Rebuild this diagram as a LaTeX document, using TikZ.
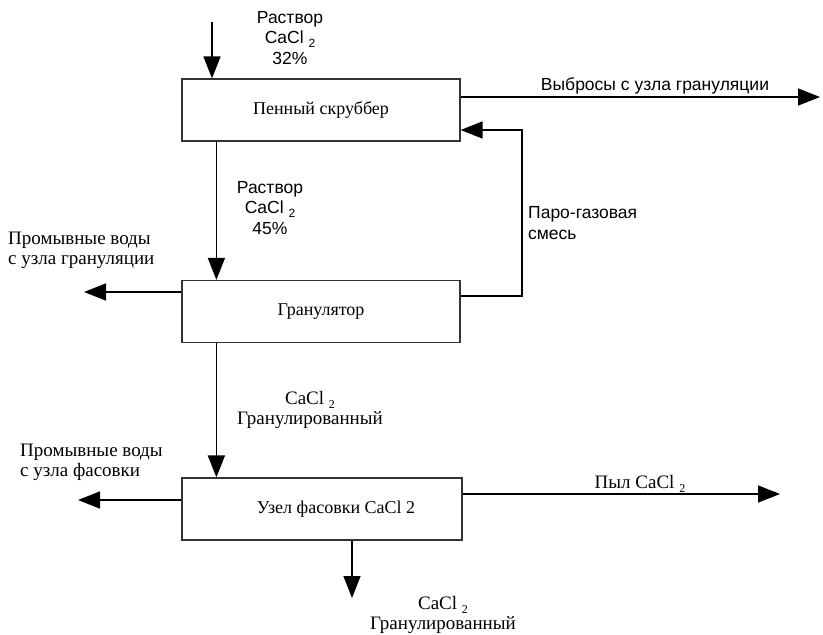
\documentclass[tikz,border=0pt]{standalone}
\usepackage{fontspec}
\setmainfont{Liberation Serif}
\setsansfont{Liberation Sans}
\usetikzlibrary{arrows.meta}
\newcommand{\sub}[1]{\raisebox{-0.4ex}{\fontsize{12}{12}\selectfont #1}}
\begin{document}
\begin{tikzpicture}[x=1pt,y=-1pt,
 box/.style={draw=black!80, line width=1.2pt, minimum width=278pt, minimum height=62pt, inner sep=0pt, font=\fontsize{18}{20}\selectfont},
 flow/.style={line width=1.6pt, -{Triangle[length=22pt,width=17pt]}},
 stxt/.style={font=\sffamily\fontsize{17.5}{20.5}\selectfont, align=center, inner sep=0pt},
 stxtl/.style={font=\sffamily\fontsize{17.5}{20.5}\selectfont, align=left, inner sep=0pt, anchor=west},
 rtxt/.style={font=\fontsize{19}{20}\selectfont, align=center, inner sep=0pt},
 rtxtl/.style={font=\fontsize{19}{20}\selectfont, align=left, inner sep=0pt, anchor=west}]
\useasboundingbox[fill=white] (0,0) rectangle (823,635);

\node[box] (scr) at (321,110) {Пенный скруббер};
\node[box] (gran) at (321,311.5) {Гранулятор};
\node[box, minimum width=280pt] (pack) at (322,509) {\hspace{28pt}Узел фасовки CaCl 2};

% inputs / outputs
\coordinate (in1) at (212,22);
\draw[flow] (in1) -- (in1 |- scr.north);
\draw[flow] ([xshift=35pt]scr.south west) -- ([xshift=35pt]gran.north west);
\draw[flow] ([xshift=35pt]gran.south west) -- ([xshift=35pt]pack.north west);

\coordinate (out1) at (820,97);
\draw[flow] (scr.east |- out1) -- (out1);

\coordinate (fb1) at (522,296);
\coordinate (fb2) at (522,130);
\draw[flow] (gran.east |- fb1) -- (fb1) -- (fb2) -- (scr.east |- fb2);

\coordinate (w1) at (84,292);
\draw[flow] (gran.west |- w1) -- (w1);
\coordinate (w2) at (78,500);
\draw[flow] (pack.west |- w2) -- (w2);
\coordinate (d1) at (780,494);
\draw[flow] (pack.east |- d1) -- (d1);
\coordinate (p1) at (352,598);
\draw[flow] (pack.south -| p1) -- (p1);

% labels
\node[stxt] (l1) at (290,38) {Раствор\\CaCl \sub{2}\\32\%};
\node[stxt] (l2) at (655,86) {Выбросы с узла грануляции};
\node[stxt] (l3) at (270,208) {Раствор\\CaCl \sub{2}\\45\%};
\node[stxtl] (l4) at (528,223) {Паро-газовая\\смесь};
\node[rtxtl] (l5) at (8,250) {Промывные воды\\с узла грануляции};
\node[rtxt] (l6) at (310,410) {CaCl \sub{2}\\Гранулированный};
\node[rtxtl] (l7) at (20,462) {Промывные воды\\с узла фасовки};
\node[rtxt] (l8) at (640,484) {Пыл CaCl \sub{2}};
\node[rtxt] (l9) at (443,615) {CaCl \sub{2}\\Гранулированный};
\end{tikzpicture}
\end{document}
